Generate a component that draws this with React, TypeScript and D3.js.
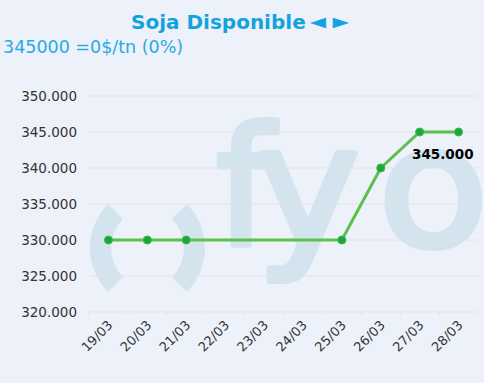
import React from "react";
import * as d3 from "d3";

const categories = ["19/03", "20/03", "21/03", "22/03", "23/03", "24/03", "25/03", "26/03", "27/03", "28/03"];
const values: (number | null)[] = [330000, 330000, 330000, null, null, null, 330000, 340000, 345000, 345000];
const yTicks = [320000, 325000, 330000, 335000, 340000, 345000, 350000];
const title = "Soja Disponible";
const titleArrows = ["◄", "►"];
const subtitle = "345000 =0$/tn (0%)";
const lastLabel = "345.000";

const W = 484, H = 383;
const left = 89, right = 478, top = 96, bottom = 312;

export default function App() {
  const x = d3.scaleBand<string>().domain(categories).range([left, right]);
  const y = d3.scaleLinear().domain([320000, 350000]).range([bottom, top]);
  const fmt = (v: number) => d3.format(",")(v).replace(/,/g, ".");
  const pts = categories
    .map((c, i) => ({ c, v: values[i] }))
    .filter((d) => d.v !== null) as { c: string; v: number }[];
  const line = d3
    .line<{ c: string; v: number }>()
    .x((d) => (x(d.c) as number) + x.bandwidth() / 2)
    .y((d) => y(d.v));
  const last = pts[pts.length - 1];
  const lx = (x(last.c) as number) + x.bandwidth() / 2;
  const wm = "#d4e4ef";
  const parenArc = d3.arc<any>().innerRadius(41).outerRadius(62);
  return (
    <svg
      width={W}
      height={H}
      style={{ position: "absolute", left: 0, top: 0, display: "block" }}
      fontFamily="DejaVu Sans, Verdana, sans-serif"
    >
      <rect width={W} height={H} fill="#edf1fa" />
      {/* watermark */}
      <g fill={wm}>
        <path transform="translate(152,248)" d={parenArc({ startAngle: 1.25 * Math.PI, endAngle: 1.75 * Math.PI }) || ""} />
        <path transform="translate(143,248)" d={parenArc({ startAngle: 0.25 * Math.PI, endAngle: 0.75 * Math.PI }) || ""} />
        <g fontFamily="DejaVu Sans, sans-serif" fontSize={164} stroke={wm} strokeWidth={6} strokeLinejoin="round">
          <text x={216} y={245}>f</text>
          <text transform="translate(256,246) scale(1.07,1.03)">y</text>
          <text transform="translate(378,246) scale(1.1,1.02)">o</text>
        </g>
      </g>
      {/* grid */}
      {yTicks.map((t) => (
        <line key={t} x1={left} x2={right} y1={y(t)} y2={y(t)} stroke="#e3e3e3" strokeWidth={1} />
      ))}
      {categories.map((c) => (
        <line key={c} x1={x(c) as number} x2={x(c) as number} y1={bottom} y2={bottom + 4} stroke="#e3e3e3" />
      ))}
      <line x1={right} x2={right} y1={bottom} y2={bottom + 4} stroke="#e3e3e3" />
      {/* y labels */}
      {yTicks.map((t) => (
        <text key={t} x={77} y={y(t) + 5} textAnchor="end" fontSize={13.5} fill="#333">
          {fmt(t)}
        </text>
      ))}
      {/* x labels */}
      {categories.map((c) => {
        const cx = (x(c) as number) + x.bandwidth() / 2 + 5;
        const cy = bottom + 14;
        return (
          <text key={c} x={cx} y={cy} textAnchor="end" fontSize={13} fill="#333" transform={`rotate(-45 ${cx} ${cy})`}>
            {c}
          </text>
        );
      })}
      {/* line */}
      <path d={line(pts) || ""} fill="none" stroke="#5cc04c" strokeWidth={3} />
      {pts.map((d) => (
        <circle key={d.c} cx={(x(d.c) as number) + x.bandwidth() / 2} cy={y(d.v)} r={4} fill="#1aa83e" stroke="#3cb54a" strokeWidth={1} />
      ))}
      <text x={lx + 15} y={y(last.v) + 27} textAnchor="end" fontSize={13.5} fontWeight="bold" fill="#000">
        {lastLabel}
      </text>
      {/* titles */}
      <text x={131} y={29} fontSize={20} fontWeight="bold" fill="#12a3df">
        {title}
      </text>
      <text x={311} y={28} fontSize={19} fontWeight="bold" fill="#12a3df" stroke="#12a3df" strokeWidth={0.8}>{titleArrows[0]}</text>
      <text x={333} y={28} fontSize={19} fontWeight="bold" fill="#12a3df" stroke="#12a3df" strokeWidth={0.8}>{titleArrows[1]}</text>
      <text x={3} y={53} fontSize={17.5} fill="#2aaae2">
        {subtitle}
      </text>
    </svg>
  );
}
